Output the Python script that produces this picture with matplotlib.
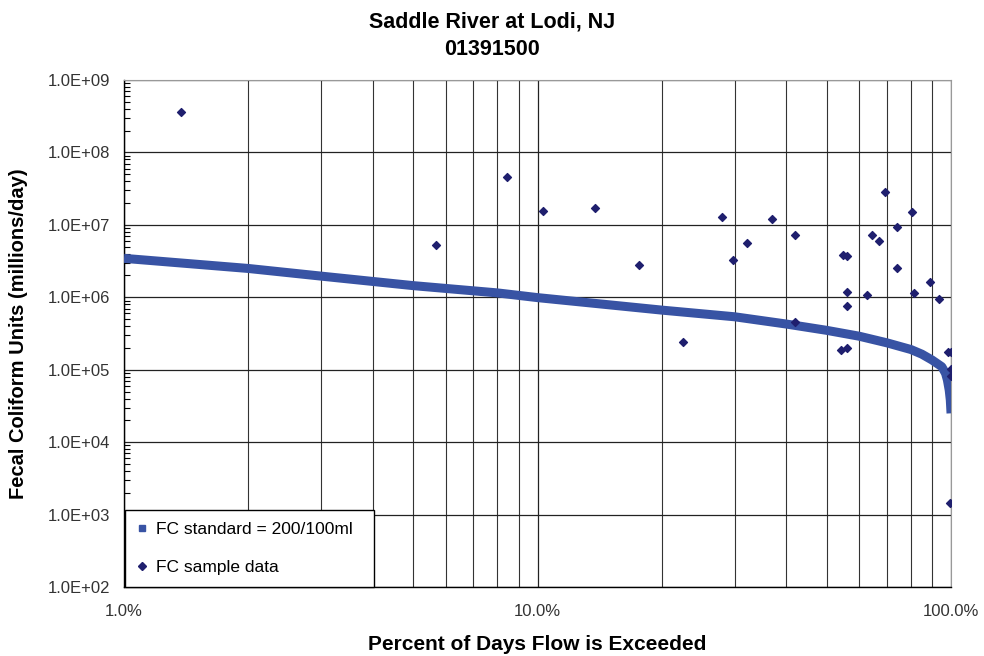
import matplotlib
matplotlib.use("Agg")
import matplotlib.pyplot as plt
from matplotlib.ticker import LogLocator, FixedLocator, NullFormatter
from matplotlib.lines import Line2D

# load duration curve for FC standard (percent exceeded, millions/day)
curve_pct = [1.0, 2.0, 3.0, 5.0, 8.0, 10.0, 20.0, 30.0, 40.0, 50.0, 60.0, 70.0,
             80.0, 85.0, 90.0, 95.0, 97.0, 98.0, 99.0, 99.6, 100.0]
curve_load = [3.45e6, 2.5e6, 1.96e6, 1.45e6, 1.15e6, 9.9e5, 6.65e5, 5.38e5, 4.27e5,
              3.5e5, 2.9e5, 2.35e5, 1.9e5, 1.64e5, 1.36e5, 1.1e5, 8.9e4, 7.2e4,
              5.2e4, 3.8e4, 2.5e4]

# FC samples
sample_pct = [1.37, 5.68, 8.43, 10.3, 13.8, 17.6, 22.5, 27.9, 29.7, 32.1, 36.9,
              41.9, 41.9, 54.9, 56.0, 56.0, 56.0, 54.2, 56.0, 62.8, 64.5, 66.8,
              69.4, 74.1, 74.1, 80.3, 81.4, 89.1, 93.7, 98.5, 99.9, 99.9, 99.8, 99.6]
sample_load = [3.6e8, 5.3e6, 4.6e7, 1.55e7, 1.72e7, 2.76e6, 2.38e5, 1.29e7, 3.3e6,
               5.6e6, 1.2e7, 7.2e6, 4.6e5, 3.8e6, 3.7e6, 1.19e6, 7.6e5, 1.9e5, 2.0e5,
               1.07e6, 7.2e6, 6.0e6, 2.8e7, 9.4e6, 2.5e6, 1.49e7, 1.15e6, 1.64e6,
               9.4e5, 1.73e5, 1.73e5, 1.02e5, 8.2e4, 1.45e3]

x_ticks = [1.0, 10.0, 100.0]
x_ticklabels = ["1.0%", "10.0%", "100.0%"]
y_ticks = [1e2, 1e3, 1e4, 1e5, 1e6, 1e7, 1e8, 1e9]
y_ticklabels = ["1.0E+02", "1.0E+03", "1.0E+04", "1.0E+05", "1.0E+06",
                "1.0E+07", "1.0E+08", "1.0E+09"]

plt.rcParams['font.family'] = ['Liberation Sans', 'DejaVu Sans']

fig = plt.figure(figsize=(9.84, 6.56), dpi=100)
ax = fig.add_axes([0.126, 0.1052, 0.8405, 0.7728])

ax.plot(curve_pct, curve_load, color="#3853A4", lw=6.5, solid_capstyle="butt", zorder=3)
ax.scatter(sample_pct, sample_load, marker="D", s=16, color="#1F1F6E", zorder=4)

ax.set_xscale("log")
ax.set_yscale("log")
ax.set_xlim(1.0, 100.0)
ax.set_ylim(1e2, 1e9)

ax.xaxis.set_major_locator(FixedLocator(x_ticks))
ax.set_xticklabels(x_ticklabels)
ax.xaxis.set_minor_locator(LogLocator(base=10, subs=range(2, 10)))
ax.xaxis.set_minor_formatter(NullFormatter())
ax.yaxis.set_major_locator(FixedLocator(y_ticks))
ax.set_yticklabels(y_ticklabels)
ax.yaxis.set_minor_locator(LogLocator(base=10, subs=range(2, 10)))
ax.yaxis.set_minor_formatter(NullFormatter())

ax.grid(True, which="major", axis="both", color="#222222", lw=0.9)
ax.grid(True, which="minor", axis="x", color="#333333", lw=0.8)
ax.set_axisbelow(True)

ax.tick_params(axis="x", which="both", length=0, pad=12, labelsize=12, labelcolor="#333333")
ax.tick_params(axis="y", which="major", length=0, pad=10, labelsize=12, labelcolor="#333333")
ax.tick_params(axis="y", which="minor", direction="in", length=4, width=0.8)

for side in ("top", "right"):
    ax.spines[side].set_color("#999999")
for side in ("left", "bottom"):
    ax.spines[side].set_color("black")
    ax.spines[side].set_linewidth(1.0)

ax.set_xlabel("Percent of Days Flow is Exceeded", fontsize=15, fontweight="bold", labelpad=12)
ax.set_ylabel("Fecal Coliform Units (millions/day)", fontsize=14.5, fontweight="bold", labelpad=14)
fig.suptitle("Saddle River at Lodi, NJ\n01391500", fontsize=15.5, fontweight="bold",
             y=0.982, linespacing=1.4)

handles = [Line2D([], [], ls="none", marker="s", markersize=5, color="#3853A4"),
           Line2D([], [], ls="none", marker="D", markersize=4, color="#1F1F6E")]
leg = ax.legend(handles, ["FC standard = 200/100ml", "FC sample data"],
                loc="lower left", bbox_to_anchor=(0.001, 0.0, 0.301, 0.16),
                mode="expand", borderaxespad=0, frameon=True, fancybox=False,
                framealpha=1, edgecolor="black", handlelength=0.6,
                handletextpad=0.5, labelspacing=1.3, borderpad=0.7,
                prop={"size": 12.5})
leg.get_frame().set_linewidth(1.0)
leg.set_zorder(5)

fig.savefig("out.png", dpi=100)
